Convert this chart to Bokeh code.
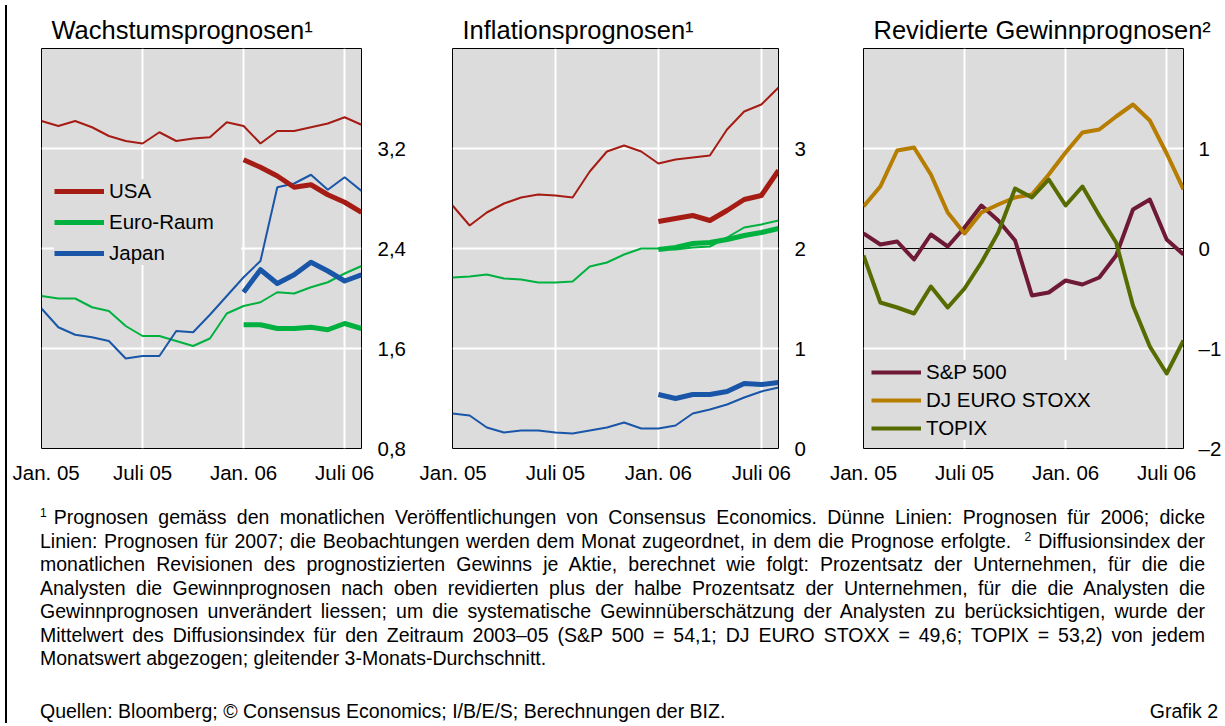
from bokeh.plotting import figure
from bokeh.models import Range1d, FixedTicker, Span, Legend, LegendItem, Div
from bokeh.layouts import row, column
from bokeh.embed import file_html
from bokeh.resources import INLINE

# ---------------- data ----------------
months = list(range(20))            # Jan. 05 ... Aug. 06 (monthly)
months_2007 = list(range(12, 20))   # Jan. 06 ... Aug. 06
x_ticks = [0, 6, 12, 18]
x_tick_labels = ["Jan. 05", "Juli 05", "Jan. 06", "Juli 06"]

# Wachstumsprognosen (thin: 2006, thick: 2007)
gdp_usa_2006 = [3.42, 3.38, 3.42, 3.37, 3.30, 3.26, 3.24, 3.33, 3.26, 3.28,
                3.29, 3.41, 3.38, 3.24, 3.34, 3.34, 3.37, 3.40, 3.45, 3.39]
gdp_usa_2007 = [3.11, 3.05, 2.98, 2.89, 2.91, 2.83, 2.77, 2.69]
gdp_euro_2006 = [2.02, 2.00, 2.00, 1.93, 1.90, 1.78, 1.70, 1.70, 1.66, 1.62,
                 1.68, 1.88, 1.94, 1.97, 2.05, 2.04, 2.09, 2.13, 2.20, 2.26]
gdp_euro_2007 = [1.79, 1.79, 1.76, 1.76, 1.77, 1.75, 1.80, 1.76]
gdp_japan_2006 = [1.92, 1.77, 1.71, 1.69, 1.66, 1.52, 1.54, 1.54, 1.74, 1.73,
                  1.87, 2.02, 2.17, 2.30, 2.89, 2.92, 2.99, 2.87, 2.97, 2.86]
gdp_japan_2007 = [2.05, 2.23, 2.12, 2.19, 2.29, 2.22, 2.14, 2.19]
gdp_ticks = [0.8, 1.6, 2.4, 3.2]
gdp_tick_labels = ["0,8", "1,6", "2,4", "3,2"]

# Inflationsprognosen
cpi_usa_2006 = [2.43, 2.23, 2.36, 2.45, 2.51, 2.54, 2.53, 2.51, 2.77, 2.97,
                3.03, 2.97, 2.85, 2.89, 2.91, 2.93, 3.19, 3.37, 3.44, 3.61]
cpi_usa_2007 = [2.27, 2.30, 2.33, 2.28, 2.38, 2.49, 2.53, 2.78]
cpi_euro_2006 = [1.71, 1.72, 1.74, 1.70, 1.69, 1.66, 1.66, 1.67, 1.82, 1.86,
                 1.94, 2.00, 2.00, 1.99, 2.01, 2.02, 2.11, 2.21, 2.24, 2.28]
cpi_euro_2007 = [1.99, 2.01, 2.05, 2.06, 2.09, 2.13, 2.16, 2.20]
cpi_japan_2006 = [0.35, 0.33, 0.21, 0.16, 0.18, 0.18, 0.16, 0.15, 0.18, 0.21,
                  0.26, 0.20, 0.20, 0.23, 0.35, 0.39, 0.44, 0.51, 0.57, 0.61]
cpi_japan_2007 = [0.54, 0.50, 0.54, 0.54, 0.57, 0.65, 0.64, 0.66]
cpi_ticks = [0, 1, 2, 3]
cpi_tick_labels = ["0", "1", "2", "3"]

# Revidierte Gewinnprognosen
sp500 = [0.15, 0.04, 0.07, -0.11, 0.14, 0.02, 0.21, 0.43, 0.28, 0.08,
         -0.47, -0.44, -0.32, -0.36, -0.29, -0.07, 0.39, 0.49, 0.09, -0.06]
dj_euro_stoxx = [0.42, 0.62, 0.98, 1.01, 0.74, 0.36, 0.15, 0.36, 0.44, 0.51,
                 0.54, 0.74, 0.96, 1.16, 1.19, 1.32, 1.44, 1.28, 0.95, 0.59]
topix = [-0.07, -0.54, -0.59, -0.65, -0.38, -0.59, -0.40, -0.14, 0.16, 0.60,
         0.51, 0.69, 0.43, 0.62, 0.33, 0.06, -0.57, -0.98, -1.25, -0.92]
eps_ticks = [-2, -1, 0, 1]
eps_tick_labels = ["\u20132", "\u20131", "0", "1"]

# ---------------- style ----------------
FONT = "Liberation Sans"
BG = "#dcdcdc"
RED = "#a51c14"
GREEN = "#00b140"
BLUE = "#1a56a8"
MAROON = "#6e1a36"
GOLD = "#b67d00"
OLIVE = "#566b00"
TICK_FS = "20.5px"
TOP = 48
FIG_H = TOP + 400 + 42


def make_panel(title, frame_w, left, right, y0, y1, yticks, ylabels, ygrid, standoff):
    p = figure(width=left + frame_w + right, height=FIG_H,
               x_range=Range1d(0, 19), y_range=Range1d(y0, y1),
               y_axis_location="right", output_backend="svg", toolbar_location=None,
               min_border_left=left, min_border_right=right,
               min_border_top=TOP, min_border_bottom=42,
               background_fill_color=BG, border_fill_color="white",
               outline_line_color="black", outline_line_width=1)
    p.title.text = title
    p.title.text_font = FONT
    p.title.text_font_size = "25.5px"
    p.title.text_font_style = "normal"
    p.title.text_color = "black"
    p.title.align = "left"
    p.title.offset = 10
    p.title.standoff = 9

    p.xaxis.ticker = FixedTicker(ticks=x_ticks)
    p.xaxis.major_label_overrides = dict(zip(x_ticks, x_tick_labels))
    p.yaxis.ticker = FixedTicker(ticks=yticks)
    p.yaxis.major_label_overrides = dict(zip(yticks, ylabels))
    for ax in (p.xaxis, p.yaxis):
        ax.axis_line_color = None
        ax.major_tick_line_color = None
        ax.minor_tick_line_color = None
        ax.major_tick_out = 0
        ax.major_tick_in = 0
        ax.minor_tick_out = 0
        ax.minor_tick_in = 0
        ax.major_label_text_font = FONT
        ax.major_label_text_font_size = TICK_FS
        ax.major_label_text_color = "black"
    p.xaxis.major_label_standoff = 12
    p.yaxis.major_label_standoff = standoff

    p.xgrid.ticker = FixedTicker(ticks=[6, 12, 18])
    p.ygrid.ticker = FixedTicker(ticks=ygrid)
    p.grid.grid_line_color = "white"
    p.grid.grid_line_width = 2
    return p


def style_legend(leg, loc, spacing, label_width):
    leg.location = loc
    leg.background_fill_color = BG
    leg.background_fill_alpha = 1
    leg.border_line_color = None
    leg.padding = 2
    leg.margin = 0
    leg.spacing = spacing
    leg.glyph_width = 50
    leg.glyph_height = 24
    leg.label_height = 24
    leg.label_width = label_width
    leg.label_standoff = 5
    leg.label_text_font = FONT
    leg.label_text_font_size = TICK_FS
    leg.label_text_color = "black"
    leg.label_text_baseline = "middle"


# Panel 1
p1 = make_panel("Wachstumsprognosen\u00b9", 320, 29, 58, 0.8, 4.0,
                gdp_ticks, gdp_tick_labels, gdp_ticks, 16)
p1.line(months, gdp_usa_2006, line_color=RED, line_width=2)
p1.line(months, gdp_euro_2006, line_color=GREEN, line_width=2)
p1.line(months, gdp_japan_2006, line_color=BLUE, line_width=2)
r_usa = p1.line(months_2007, gdp_usa_2007, line_color=RED, line_width=5, line_join="round")
r_eur = p1.line(months_2007, gdp_euro_2007, line_color=GREEN, line_width=5, line_join="round")
r_jap = p1.line(months_2007, gdp_japan_2007, line_color=BLUE, line_width=5, line_join="round")
leg1 = Legend(items=[LegendItem(label="USA", renderers=[r_usa]),
                     LegendItem(label="Euro-Raum", renderers=[r_eur]),
                     LegendItem(label="Japan", renderers=[r_jap])])
style_legend(leg1, (13, 183), 7, 132)
p1.add_layout(leg1)

# Panel 2
p2 = make_panel("Inflationsprognosen\u00b9", 326, 33, 51, 0, 4,
                cpi_ticks, cpi_tick_labels, cpi_ticks, 16)
p2.line(months, cpi_usa_2006, line_color=RED, line_width=2)
p2.line(months, cpi_euro_2006, line_color=GREEN, line_width=2)
p2.line(months, cpi_japan_2006, line_color=BLUE, line_width=2)
p2.line(months_2007, cpi_usa_2007, line_color=RED, line_width=5, line_join="round")
p2.line(months_2007, cpi_euro_2007, line_color=GREEN, line_width=5, line_join="round")
p2.line(months_2007, cpi_japan_2007, line_color=BLUE, line_width=5, line_join="round")

# Panel 3
p3 = make_panel("Revidierte Gewinnprognosen\u00b2", 320, 34, 41, -2, 2,
                eps_ticks, eps_tick_labels, [-1, 1], 15)
p3.add_layout(Span(location=0, dimension="width", line_color="black",
                   line_width=1, level="underlay"))
r_sp = p3.line(months, sp500, line_color=MAROON, line_width=4, line_join="round")
r_dj = p3.line(months, dj_euro_stoxx, line_color=GOLD, line_width=4, line_join="round")
r_tp = p3.line(months, topix, line_color=OLIVE, line_width=4, line_join="round")
leg3 = Legend(items=[LegendItem(label="S&P 500", renderers=[r_sp]),
                     LegendItem(label="DJ EURO STOXX", renderers=[r_dj]),
                     LegendItem(label="TOPIX", renderers=[r_tp])])
style_legend(leg3, (8, 8), 4, 20)
p3.add_layout(leg3)

# ---------------- footnotes ----------------
lines = [
    "<sup style='margin-right:7px'>1</sup>Prognosen gemäss den monatlichen Veröffentlichungen von Consensus Economics. Dünne Linien: Prognosen für 2006; dicke",
    "Linien: Prognosen für 2007; die Beobachtungen werden dem Monat zugeordnet, in dem die Prognose erfolgte. &nbsp;<sup style='margin-right:7px'>2</sup>Diffusionsindex der",
    "monatlichen Revisionen des prognostizierten Gewinns je Aktie, berechnet wie folgt: Prozentsatz der Unternehmen, für die die",
    "Analysten die Gewinnprognosen nach oben revidierten plus der halbe Prozentsatz der Unternehmen, für die die Analysten die",
    "Gewinnprognosen unverändert liessen; um die systematische Gewinnüberschätzung der Analysten zu berücksichtigen, wurde der",
    "Mittelwert des Diffusionsindex für den Zeitraum 2003–05 (S&amp;P 500 = 54,1; DJ EURO STOXX = 49,6; TOPIX = 53,2) von jedem",
]
last_line = "Monatswert abgezogen; gleitender 3-Monats-Durchschnitt."
sources = "Quellen: Bloomberg; © Consensus Economics; I/B/E/S; Berechnungen der BIZ."
chart_no = "Grafik 2"

FOOT_W = 1212
FOOT_H = 228
sup_css = "<style>sup{font-size:12px;line-height:0;vertical-align:0.55em;}</style>"
html = sup_css + ("<div style='box-sizing:border-box;width:%dpx;font-family:Liberation Sans, Arial, sans-serif;"
                  "font-size:19.5px;line-height:23.5px;color:black;padding:11px 24px 0 23px;'>" % FOOT_W)
for ln in lines:
    html += "<div style='width:100%;text-align:justify;text-align-last:justify;white-space:nowrap;'>" + ln + "</div>"
html += "<div style='text-align:left;white-space:nowrap;'>" + last_line + "</div>"
html += ("<div style='margin-top:29.5px;width:1178px;display:flex;justify-content:space-between;white-space:nowrap;'>"
         "<span>" + sources + "</span><span>" + chart_no + "</span></div>")
html += "</div>"
foot = Div(text=html, width=FOOT_W, height=FOOT_H)

leftbar = Div(text="", width=2, height=FIG_H + FOOT_H, styles={"background-color": "black"})

layout = row(leftbar, column(row(p1, p2, p3), foot))

open("out.html", "w").write(file_html(layout, INLINE))
